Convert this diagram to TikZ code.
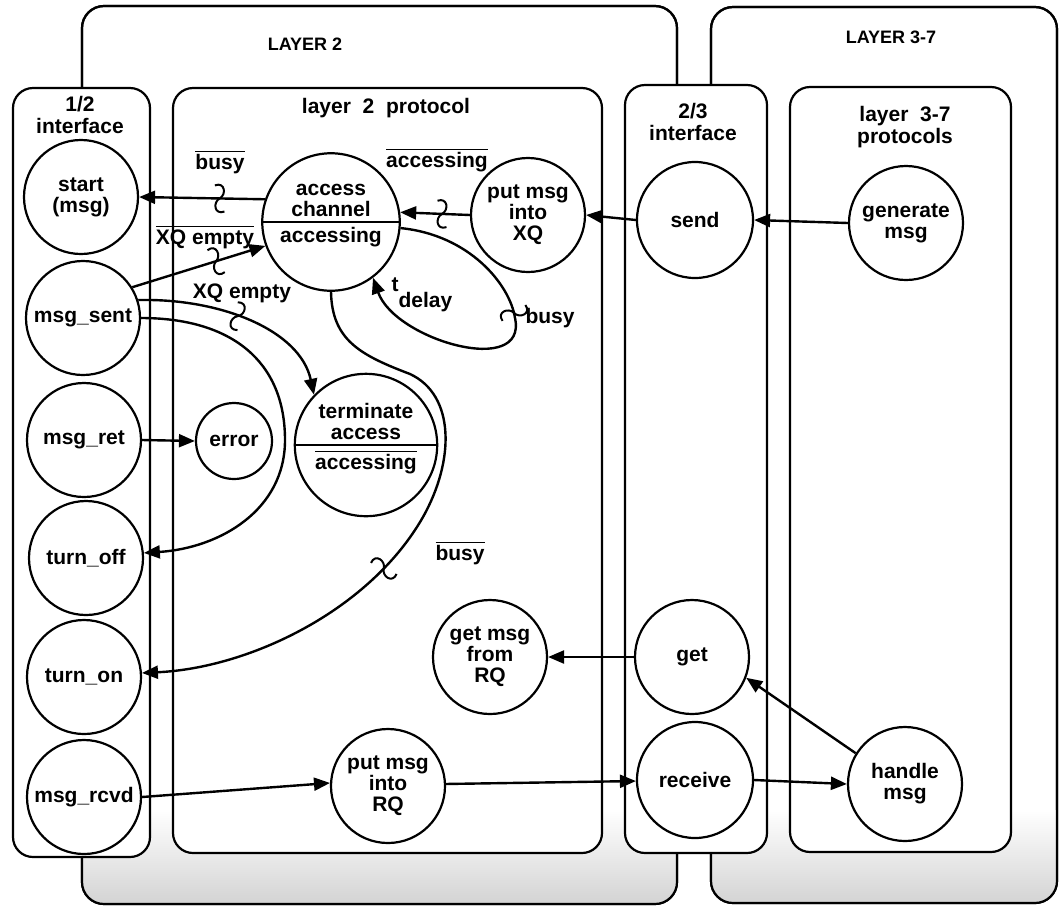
\documentclass[tikz,border=0pt]{standalone}
\usepackage{fontspec}
\setmainfont{Liberation Sans}
\usetikzlibrary{arrows.meta, shapes.multipart}

\newcommand{\notof}[1]{$\overline{\mbox{#1}}$}

\tikzset{
  outerbox/.style={draw, line width=1.1pt, rounded corners=11pt, fill=white},
  innerbox/.style={draw, line width=1.1pt, rounded corners=10pt, fill=white},
  state/.style={circle, draw, line width=1.1pt, fill=white, minimum size=57pt, inner sep=0pt,
    align=center, font=\fontsize{10.5}{10.5}\selectfont\bfseries},
  splitstate/.style={circle split, draw, line width=1.1pt, fill=white, minimum size=68pt,
    inner sep=2pt, align=center, font=\fontsize{10.5}{10.5}\selectfont\bfseries},
  arr/.style={-{Triangle[length=8pt,width=6.5pt]}, line width=1.2pt},
  cond/.style={font=\fontsize{10.5}{10.5}\selectfont\bfseries, inner sep=1pt},
  boxtitle/.style={font=\fontsize{10.5}{11}\selectfont\bfseries, align=center},
  layertitle/.style={font=\fontsize{9}{9}\selectfont\bfseries},
  squig/.pic={\draw[-, line width=1pt] (-5,-13) .. controls (5,-17) and (7,-4) .. (0,0)
    .. controls (-7,4) and (-5,17) .. (5,13);}
}

\begin{document}
\begin{tikzpicture}[x=0.5pt, y=-0.5pt]
  \useasboundingbox (0,0) rectangle (1059,906);

  \draw[outerbox] (82,6) rectangle (677,904);
  \draw[outerbox] (711,7) rectangle (1057,903);
  \begin{scope}
    \clip[rounded corners=11pt] (82,6) rectangle (677,904) (711,7) rectangle (1057,903);
    \shade[top color=white, bottom color=gray!35] (0,810) rectangle (1059,906);
  \end{scope}
  \draw[line width=1.1pt, rounded corners=11pt] (82,6) rectangle (677,904);
  \draw[line width=1.1pt, rounded corners=11pt] (711,7) rectangle (1057,903);

  \draw[innerbox] (13,88) rectangle (150,857);
  \draw[innerbox] (173,88) rectangle (602,853);
  \draw[innerbox] (625,85) rectangle (767,853);
  \draw[innerbox] (790,87) rectangle (1011,852);

  \node[layertitle] (lay2) at (305,44) {LAYER 2};
  \node[layertitle] (lay37) at (891,37) {LAYER 3-7};
  \node[boxtitle] (if12) at (80,115) {1/2\\interface};
  \node[boxtitle] (proto2) at (386,108) {layer\ \ 2\ \ protocol};
  \node[boxtitle] (if23) at (693,122) {2/3\\interface};
  \node[boxtitle] (proto37) at (905,127) {layer\ \ 3-7\\protocols};

  \node[state] (start) at (81,197) {start\\(msg)};
  \node[state] (sent) at (83,318) {msg\_sent};
  \node[state] (ret) at (84,440) {msg\_ret};
  \node[state] (toff) at (86,558) {turn\_off};
  \node[state] (ton) at (84,677) {turn\_on};
  \node[state] (rcvd) at (84,797) {msg\_rcvd};

  \node[splitstate] (acc) at (331,222) {access\\channel \nodepart{lower} accessing};
  \node[state] (xq) at (528,215) {put msg\\into\\XQ};
  \node[state, minimum size=38pt] (err) at (234,441) {error};
  \node[splitstate] (term) at (366,445) {terminate\\access \nodepart{lower} \notof{accessing}};
  \node[state] (grq) at (490,657) {get msg\\from\\RQ};
  \node[state] (prq) at (388,786) {put msg\\into\\RQ};

  \node[state, minimum size=58pt] (send) at (695,220) {send};
  \node[state] (get) at (692,657) {get};
  \node[state, minimum size=58pt] (rcv) at (695,780) {receive};
  \node[state] (gen) at (906,223) {generate\\msg};
  \node[state] (hdl) at (905,784) {handle\\msg};

  \draw[arr] (acc.161) -- pic[pos=.36, sloped] {squig} (start.east);
  \draw[arr] (xq.west) -- pic[pos=.4, sloped] {squig} (acc.8);
  \draw[arr] (send.west) -- (xq.east);
  \draw[arr] (gen.west) -- (send.east);
  \draw[arr] (sent.32) -- pic[pos=.63, sloped] {squig} (acc.200);
  \draw[arr] (sent.18) .. controls (220,298) and (300,330) .. pic[pos=.43, sloped] {squig} (term.136);
  \draw[arr] (sent.east) .. controls (230,318) and (285,360) .. (285,440)
    .. controls (285,510) and (220,548) .. (toff.5);
  \draw[arr] (ret.east) -- (err.west);
  \draw[arr] (acc.355) .. controls (470,235) and (510,285) .. (515,318) pic[pos=.95, sloped] {squig}
    .. controls (528,378) and (395,340) .. (acc.307);
  \draw[arr] (acc.south) .. controls (332,340) and (360,355) .. (410,374)
    .. controls (455,395) and (455,460) .. (423,517)
    .. controls (370,610) and (250,668) .. pic[pos=.2, sloped] {squig} (ton.4);
  \draw[arr] (get.west) -- (grq.east);
  \draw[arr] (hdl.148) -- (get.339);
  \draw[arr] (rcvd.east) -- (prq.177);
  \draw[arr] (prq.2) -- (rcv.181);
  \draw[arr] (rcv.east) -- (hdl.west);

  \node[cond] (cbusy) at (220,162) {\notof{busy}};
  \node[cond] (caccess) at (437,160) {\notof{accessing}};
  \node[cond] (cxqnot) at (205,237) {\notof{XQ empty}};
  \node[cond] (cxq) at (242,293) {XQ empty};
  \node[cond] (cdelay) at (422,295) {t\raisebox{-8pt}{delay}};
  \node[cond] (cbusy2) at (550,318) {busy};
  \node[cond] (cbusy3) at (460,553) {\notof{busy}};
\end{tikzpicture}
\end{document}
